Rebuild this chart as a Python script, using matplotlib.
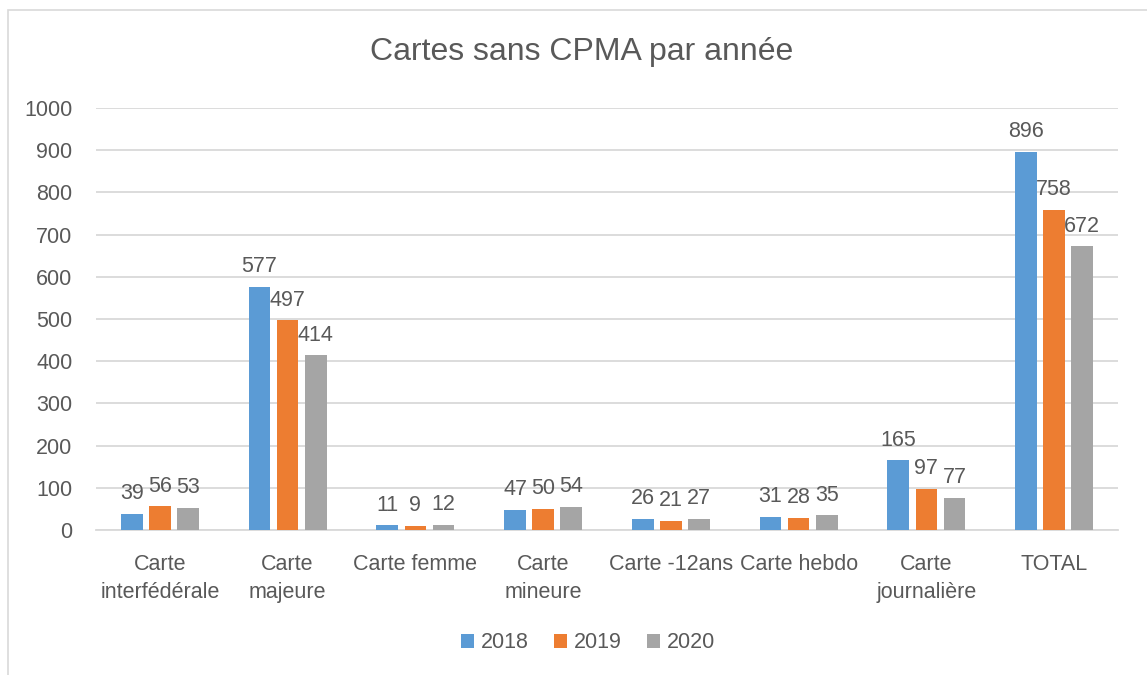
import matplotlib.pyplot as plt
import numpy as np
from matplotlib.patches import Rectangle

categories = [
    "Carte\ninterfédérale",
    "Carte\nmajeure",
    "Carte femme",
    "Carte\nmineure",
    "Carte -12ans",
    "Carte hebdo",
    "Carte\njournalière",
    "TOTAL",
]
years = ["2018", "2019", "2020"]
values_2018 = [39, 577, 11, 47, 26, 31, 165, 896]
values_2019 = [56, 497, 9, 50, 21, 28, 97, 758]
values_2020 = [53, 414, 12, 54, 27, 35, 77, 672]
colors = ["#5B9BD5", "#ED7D31", "#A5A5A5"]

text_color = "#595959"
plt.rcParams["font.family"] = ["Liberation Sans", "DejaVu Sans"]

fig = plt.figure(figsize=(11.47, 6.75), dpi=100)
ax = fig.add_axes([96 / 1147, 1 - 530 / 675, (1118 - 96) / 1147, (530 - 108) / 675])

# chart frame like the Excel chart area
fig.patches.append(
    Rectangle((8 / 1147, -0.05), 1.1, 1 - 10 / 675 + 0.05,
              transform=fig.transFigure, fill=False,
              edgecolor="#D9D9D9", linewidth=1.2)
)

x = np.arange(len(categories))
width = 0.17
step = 0.22
series = [values_2018, values_2019, values_2020]
for i, (vals, year, color) in enumerate(zip(series, years, colors)):
    bars = ax.bar(x + (i - 1) * step, vals, width, color=color, label=year, zorder=3)
    ax.bar_label(bars, padding=7, fontsize=15.5, color=text_color)

ax.set_xlim(-0.5, len(categories) - 0.5)
ax.set_ylim(0, 1000)
ax.set_yticks(range(0, 1001, 100))
ax.set_xticks(x)
ax.set_xticklabels(categories, fontsize=15.5, color=text_color, linespacing=1.45)
ax.tick_params(axis="x", length=0, pad=17)
ax.tick_params(axis="y", length=0, pad=17, labelsize=15.5, labelcolor=text_color)

ax.grid(axis="y", color="#D9D9D9", linewidth=1.3, zorder=0)
for side in ["top", "right", "left"]:
    ax.spines[side].set_visible(False)
ax.spines["bottom"].set_color("#D9D9D9")
ax.spines["bottom"].set_linewidth(1.3)

fig.text(582 / 1147, 1 - 52 / 675, "Cartes sans CPMA par année",
         ha="center", va="center", fontsize=23, color=text_color)

fig.legend(loc="center", bbox_to_anchor=(588 / 1147, 1 - 643 / 675), ncol=3,
           frameon=False, fontsize=15.5, labelcolor=text_color,
           handlelength=0.6, handleheight=0.6, handletextpad=0.3,
           columnspacing=1.2)

fig.savefig("out.png", dpi=100)
